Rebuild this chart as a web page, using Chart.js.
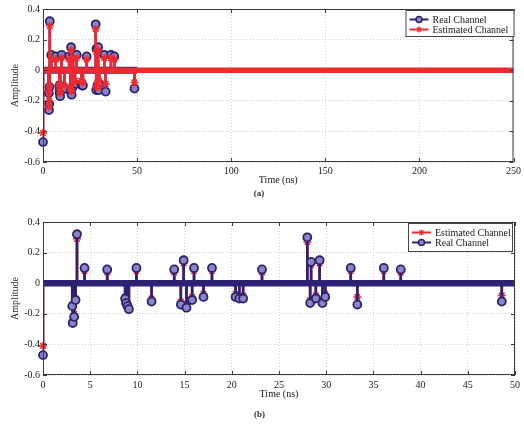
<!DOCTYPE html>
<html><head><meta charset="utf-8">
<script src="https://cdn.jsdelivr.net/npm/chart.js@4"></script>
<style>html,body{margin:0;padding:0;background:#fff;overflow:hidden}canvas{display:block}</style>
</head><body>
<canvas id="a" width="524" height="212"></canvas>
<canvas id="b" width="524" height="212"></canvas>
<script>
// ---- data ----
const tapTimes = [0, 3.1, 3.15, 3.3, 3.45, 3.6, 4.4, 6.8, 8.7, 8.8, 8.95, 9.1, 9.9, 11.5, 13.9, 14.6, 14.9, 15.2, 15.8, 16.0, 17.0, 17.9, 20.4, 20.8, 21.2, 23.2, 28.0, 28.3, 28.4, 28.9, 29.3, 29.6, 29.9, 32.6, 33.3, 36.1, 37.9, 48.6];
const realValues = [-0.47, -0.15, -0.26, -0.22, -0.11, 0.32, 0.10, 0.09, -0.10, -0.13, -0.15, -0.17, 0.10, -0.12, 0.09, -0.14, 0.15, -0.16, -0.11, 0.10, -0.09, 0.10, -0.09, -0.10, -0.10, 0.09, 0.30, -0.13, 0.14, -0.10, 0.15, -0.13, -0.09, 0.10, -0.14, 0.10, 0.09, -0.12];
const estValues = [-0.41, -0.14, -0.24, -0.20, -0.10, 0.29, 0.08, 0.07, -0.09, -0.11, -0.13, -0.15, 0.08, -0.10, 0.07, -0.12, 0.13, -0.14, -0.09, 0.08, -0.07, 0.08, -0.07, -0.08, -0.08, 0.07, 0.27, -0.11, 0.12, -0.08, 0.13, -0.11, -0.07, 0.08, -0.09, 0.08, 0.07, -0.08];
const realSpan = [0, 50];     // time range of the real channel samples (zero-valued elsewhere)
const estSpan = [0, 250];     // time range of the estimated channel samples
const yTicks = [-0.6, -0.4, -0.2, 0, 0.2, 0.4];
const xTicksA = [0, 50, 100, 150, 200, 250];
const xTicksB = [0, 5, 10, 15, 20, 25, 30, 35, 40, 45, 50];
const labels = {real: 'Real Channel', est: 'Estimated Channel', x: 'Time (ns)', y: 'Amplitude', a: '(a)', b: '(b)'};

const NAVY = '#2b2272', NAVYFILL = '#8a86c2', RED = '#ec2a30';
const SERIF = '"Liberation Serif", "DejaVu Serif", serif';

const pts = (vals) => tapTimes.map((t, i) => ({x: t, y: vals[i]}));
const span = (s) => s.map(t => ({x: t, y: 0}));

function drawStar(ctx, x, y, r) {
  ctx.beginPath();
  for (let k = 0; k < 4; k++) {
    const a = k * Math.PI / 4;
    ctx.moveTo(x - r * Math.cos(a), y - r * Math.sin(a));
    ctx.lineTo(x + r * Math.cos(a), y + r * Math.sin(a));
  }
  ctx.stroke();
}

const framePlugin = {
  id: 'frame',
  afterDraw(chart, args, opts) {
    const ctx = chart.ctx, ca = chart.chartArea;
    const xs = chart.scales.x, ys = chart.scales.y;
    ctx.save();
    ctx.strokeStyle = '#3a3a3a'; ctx.lineWidth = 1;
    ctx.strokeRect(ca.left + 0.5, ca.top + 0.5, ca.right - ca.left - 1, ca.bottom - ca.top - 1);
    ctx.beginPath();
    xs.ticks.forEach(t => { const p = Math.round(xs.getPixelForValue(t.value)) + 0.5;
      ctx.moveTo(p, ca.bottom); ctx.lineTo(p, ca.bottom - 4); ctx.moveTo(p, ca.top); ctx.lineTo(p, ca.top + 4); });
    ys.ticks.forEach(t => { const p = Math.round(ys.getPixelForValue(t.value)) + 0.5;
      ctx.moveTo(ca.left, p); ctx.lineTo(ca.left + 4, p); ctx.moveTo(ca.right, p); ctx.lineTo(ca.right - 4, p); });
    ctx.stroke();
    // legend
    const L = opts.legend;
    const bx = ca.right - L.w + L.dx, by = ca.top + L.dy;
    ctx.fillStyle = '#fff';
    ctx.fillRect(bx, by, L.w, L.h);
    ctx.strokeStyle = '#444';
    ctx.strokeRect(bx + 0.5, by + 0.5, L.w - 1, L.h - 1);
    ctx.font = '10px ' + SERIF; ctx.textBaseline = 'middle'; ctx.textAlign = 'left';
    L.items.forEach((it, i) => {
      const yy = by + 9.5 + i * 10;
      ctx.strokeStyle = it.color; ctx.lineWidth = 2;
      ctx.beginPath(); ctx.moveTo(bx + 4, yy); ctx.lineTo(bx + 23, yy); ctx.stroke();
      if (it.kind === 'circle') {
        ctx.fillStyle = NAVYFILL; ctx.lineWidth = 1.5; ctx.strokeStyle = NAVY;
        ctx.beginPath(); ctx.arc(bx + 13.5, yy, 3, 0, Math.PI * 2); ctx.fill(); ctx.stroke();
      } else {
        ctx.lineWidth = 1.2; drawStar(ctx, bx + 13.5, yy, 3);
      }
      ctx.fillStyle = '#222';
      ctx.fillText(it.label, bx + 27, yy + 0.5);
    });
    ctx.restore();
  }
};

function makeChart(id, opt) {
  const realSets = [
    {type: 'line', data: span(realSpan), borderColor: NAVY, borderWidth: opt.realBand, pointRadius: 0, order: opt.realOrder + 2},
    {type: 'bar', data: pts(realValues), backgroundColor: NAVY, barThickness: 2, grouped: false, order: opt.realOrder + 1},
    {type: 'scatter', data: pts(realValues), pointStyle: 'circle', pointRadius: 4, pointBorderWidth: 1.8, clip: false,
      borderColor: NAVY, backgroundColor: NAVYFILL, order: opt.realOrder}
  ];
  const estSets = [
    {type: 'line', data: span(estSpan), borderColor: RED, borderWidth: opt.estBand, pointRadius: 0, order: opt.estOrder + 2},
    {type: 'bar', data: pts(estValues), backgroundColor: RED, barThickness: 2, grouped: false, order: opt.estOrder + 1},
    {type: 'scatter', data: pts(estValues), pointStyle: 'star', pointRadius: 4, pointBorderWidth: 1.5, clip: false,
      borderColor: RED, backgroundColor: RED, order: opt.estOrder}
  ];
  return new Chart(document.getElementById(id), {
    type: 'scatter',
    data: {datasets: realSets.concat(estSets)},
    plugins: [framePlugin],
    options: {
      responsive: false, animation: false,
      layout: {padding: {left: 0, right: opt.right, top: opt.top, bottom: opt.pb}},
      plugins: {
        legend: {display: false}, tooltip: {enabled: false},
        title: {display: true, position: 'bottom', text: opt.caption, color: '#333',
          font: {family: SERIF, size: 9}, padding: {top: opt.capTop, bottom: 2}},
        frame: {legend: opt.legend}
      },
      scales: {
        x: {type: 'linear', min: opt.xTicks[0], max: opt.xTicks[opt.xTicks.length - 1], offset: false,
          afterBuildTicks: (s) => { s.ticks = opt.xTicks.map(v => ({value: v})); },
          afterFit: (s) => { s.height = opt.xH; },
          grid: {color: '#d0d0d0', drawTicks: false, offset: false},
          border: {display: false, dash: [1, 2]},
          ticks: {color: '#222', padding: opt.tickPad, font: {family: SERIF, size: 10}, maxRotation: 0},
          title: {display: true, text: labels.x, color: '#222', font: {family: SERIF, size: 10}, padding: {top: 0, bottom: 0}}
        },
        y: {type: 'linear', min: -0.6, max: 0.4,
          afterBuildTicks: (s) => { s.ticks = yTicks.map(v => ({value: v})); },
          afterFit: (s) => { s.width = 43; },
          grid: {color: '#d0d0d0', drawTicks: false},
          border: {display: false, dash: [1, 2]},
          ticks: {color: '#222', padding: 3, font: {family: SERIF, size: 10},
            callback: (v) => Math.abs(v) < 1e-9 ? '0' : v.toFixed(1)},
          title: {display: true, text: labels.y, color: '#222', font: {family: SERIF, size: 10}, padding: {top: 9, bottom: 0}}
        }
      }
    }
  });
}

makeChart('a', {
  caption: labels.a, xTicks: xTicksA, right: 6, top: 9, pb: 10.6, xH: 24, capTop: 2.6, tickPad: 3,
  realOrder: 3, estOrder: 0, realBand: 7, estBand: 5.5,
  legend: {w: 109, h: 27, dx: 1, dy: 1, items: [
    {label: labels.real, color: NAVY, kind: 'circle'},
    {label: labels.est, color: RED, kind: 'star'}]}
});
makeChart('b', {
  caption: labels.b, xTicks: xTicksB, right: 5, top: 10, pb: 1.6, xH: 25, capTop: 9.6, tickPad: 4,
  realOrder: 0, estOrder: 3, realBand: 6.5, estBand: 4,
  legend: {w: 105, h: 29, dx: -2, dy: 1, items: [
    {label: labels.est, color: RED, kind: 'star'},
    {label: labels.real, color: NAVY, kind: 'circle'}]}
});
</script>
</body></html>
